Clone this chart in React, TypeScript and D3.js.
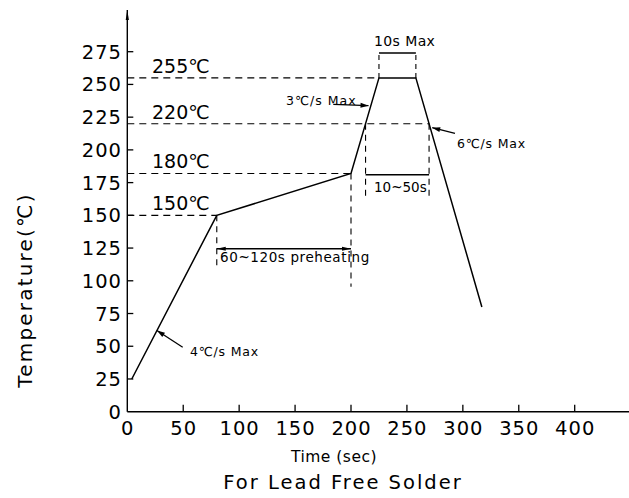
import React from "react";
import * as d3 from "d3";

const profileTime = [4, 80, 200, 225, 258, 317];
const profileTemp = [25, 150, 182, 255, 255, 80];

const yTicks = [0, 25, 50, 75, 100, 125, 150, 175, 200, 225, 250, 275];
const xTicks = [0, 50, 100, 150, 200, 250, 300, 350, 400];

const levelTemps = [255, 220, 182, 150];
const levelLabels = ["255℃", "220℃", "180℃", "150℃"];
const levelEndTimes = [225, 270, 200, 80];

const W = 629;
const H = 498;
const FONT = "DejaVu Sans, sans-serif";

function arrowHead(tipX: number, tipY: number, fromX: number, fromY: number, len = 8, half = 2.5) {
  const dx = tipX - fromX;
  const dy = tipY - fromY;
  const d = Math.sqrt(dx * dx + dy * dy);
  const ux = dx / d, uy = dy / d;
  const bx = tipX - ux * len, by = tipY - uy * len;
  const px = -uy * half, py = ux * half;
  return `M${tipX},${tipY}L${bx + px},${by + py}L${bx - px},${by - py}Z`;
}

export default function App() {
  const x = d3.scaleLinear().domain([0, 400]).range([127.3, 574.7]);
  const y = d3.scaleLinear().domain([0, 275]).range([411.7, 51.7]);
  const xAxisEnd = 629;
  const yAxisTop = 10;

  const pts: [number, number][] = profileTime.map((t, i) => [t, profileTemp[i]]);
  const line = d3.line<[number, number]>().x((d) => x(d[0])).y((d) => y(d[1]));

  const dash = "7,5";
  const vdash = "6,5";

  const tRise220 = 200 + ((220 - 182) * (225 - 200)) / (255 - 182);
  const tFall220 = 258 + ((255 - 220) * (317 - 258)) / (255 - 80);

  const t4 = 4 + ((62 - 25) * (80 - 4)) / (150 - 25);
  const t3 = 200 + ((233 - 182) * (225 - 200)) / (255 - 182);
  const t6 = 258 + ((255 - 217) * (317 - 258)) / (255 - 80);

  const bracketY = 274;
  const tenToFiftyY = 181;
  const preheatY = 124.5;

  return (
    <svg
      width={W}
      height={H}
      style={{ position: "absolute", left: 0, top: 0, background: "#fff" }}
      fontFamily={FONT}
    >
      <rect width={W} height={H} fill="#fff" />
      <line x1={x(0)} x2={x(0)} y1={y(0)} y2={yAxisTop} stroke="#000" strokeWidth={1.4} />
      <path d={arrowHead(x(0), yAxisTop, x(0), yAxisTop + 20, 10, 1.6)} fill="#000" />
      <line x1={x(0)} x2={xAxisEnd} y1={y(0)} y2={y(0)} stroke="#000" strokeWidth={1.4} />

      {yTicks.map((v) => (
        <g key={"yt" + v}>
          {v > 0 && <line x1={x(0)} x2={x(0) + 6} y1={y(v)} y2={y(v)} stroke="#000" strokeWidth={1.3} />}
          <text x={122} y={y(v) + 7} fontSize={19.5} textAnchor="end" fill="#000" letterSpacing={1}>
            {v}
          </text>
        </g>
      ))}
      {xTicks.map((v) => (
        <g key={"xt" + v}>
          {v > 0 && <line x1={x(v)} x2={x(v)} y1={y(0)} y2={y(0) - 7} stroke="#000" strokeWidth={1.3} />}
          <text x={x(v) + 0.5} y={435} fontSize={19.5} textAnchor="middle" fill="#000" letterSpacing={1}>
            {v}
          </text>
        </g>
      ))}

      {levelTemps.map((v, i) => (
        <g key={"lv" + v}>
          <line
            x1={x(0)}
            x2={x(levelEndTimes[i])}
            y1={y(v)}
            y2={y(v)}
            stroke="#000"
            strokeWidth={1.1}
            strokeDasharray={dash}
          />
          <text x={152} y={y(v) - 5} fontSize={19} fill="#000">
            {levelLabels[i]}
          </text>
        </g>
      ))}

      <line x1={x(80)} x2={x(80)} y1={y(150)} y2={y(110)} stroke="#000" strokeWidth={1.1} strokeDasharray={vdash} />
      <line x1={x(200)} x2={x(200)} y1={y(182)} y2={y(95.5)} stroke="#000" strokeWidth={1.1} strokeDasharray={vdash} />
      <line x1={x(tRise220)} x2={x(tRise220)} y1={y(220)} y2={y(162)} stroke="#000" strokeWidth={1.1} strokeDasharray={vdash} />
      <line x1={x(tFall220)} x2={x(tFall220)} y1={y(220)} y2={y(162)} stroke="#000" strokeWidth={1.1} strokeDasharray={vdash} />
      <line x1={x(225)} x2={x(225)} y1={y(255)} y2={y(bracketY)} stroke="#000" strokeWidth={1.1} strokeDasharray="5,4" />
      <line x1={x(258)} x2={x(258)} y1={y(255)} y2={y(bracketY)} stroke="#000" strokeWidth={1.1} strokeDasharray="5,4" />

      <path d={line(pts) || ""} fill="none" stroke="#000" strokeWidth={1.5} />

      <line x1={x(225)} x2={x(258)} y1={y(bracketY)} y2={y(bracketY)} stroke="#000" strokeWidth={1.4} />
      <text x={374} y={46} fontSize={14} fill="#000" letterSpacing={0.4}>
        10s Max
      </text>

      <line x1={x(tRise220)} x2={x(tFall220)} y1={y(tenToFiftyY)} y2={y(tenToFiftyY)} stroke="#000" strokeWidth={1.4} />
      <text x={374} y={192} fontSize={13.5} fill="#000">
        10~50s
      </text>

      <line x1={x(80)} x2={x(200)} y1={y(preheatY)} y2={y(preheatY)} stroke="#000" strokeWidth={1.4} />
      <path d={arrowHead(x(80), y(preheatY), x(200), y(preheatY), 9, 2)} fill="#000" />
      <path d={arrowHead(x(200), y(preheatY), x(80), y(preheatY), 9, 2)} fill="#000" />
      <text x={220} y={262} fontSize={13.5} fill="#000" letterSpacing={0.6}>
        60~120s preheating
      </text>

      <line x1={x(t4)} x2={182.7} y1={y(62)} y2={347.3} stroke="#000" strokeWidth={1.3} />
      <path d={arrowHead(x(t4), y(62), 182.7, 347.3, 8, 2.5)} fill="#000" />
      <text x={190} y={356} fontSize={12.5} fill="#000" letterSpacing={0.8}>
        4℃/s Max
      </text>

      <line x1={333.3} x2={x(t3) - 2} y1={104.3} y2={y(233) - 1} stroke="#000" strokeWidth={1.3} />
      <path d={arrowHead(x(t3) - 2, y(233) - 1, 333.3, 104.3, 8, 2.5)} fill="#000" />
      <text x={286} y={105} fontSize={12.5} fill="#000" letterSpacing={1}>
        3℃/s Max
      </text>

      <line x1={x(t6) + 2} x2={455} y1={y(217)} y2={133.3} stroke="#000" strokeWidth={1.3} />
      <path d={arrowHead(x(t6) + 2, y(217), 455, 133.3, 8, 2.5)} fill="#000" />
      <text x={457} y={148} fontSize={12.5} fill="#000" letterSpacing={0.8}>
        6℃/s Max
      </text>

      <text x={334} y={462} fontSize={15.5} textAnchor="middle" fill="#000" letterSpacing={0.5}>
        Time (sec)
      </text>
      <text x={343} y={489} fontSize={19.5} textAnchor="middle" fill="#000" letterSpacing={2}>
        For Lead Free Solder
      </text>
      <text
        transform={`translate(32,${290}) rotate(-90)`}
        fontSize={20}
        textAnchor="middle"
        fill="#000"
        letterSpacing={2.2}
      >
        Temperature(℃)
      </text>
    </svg>
  );
}
